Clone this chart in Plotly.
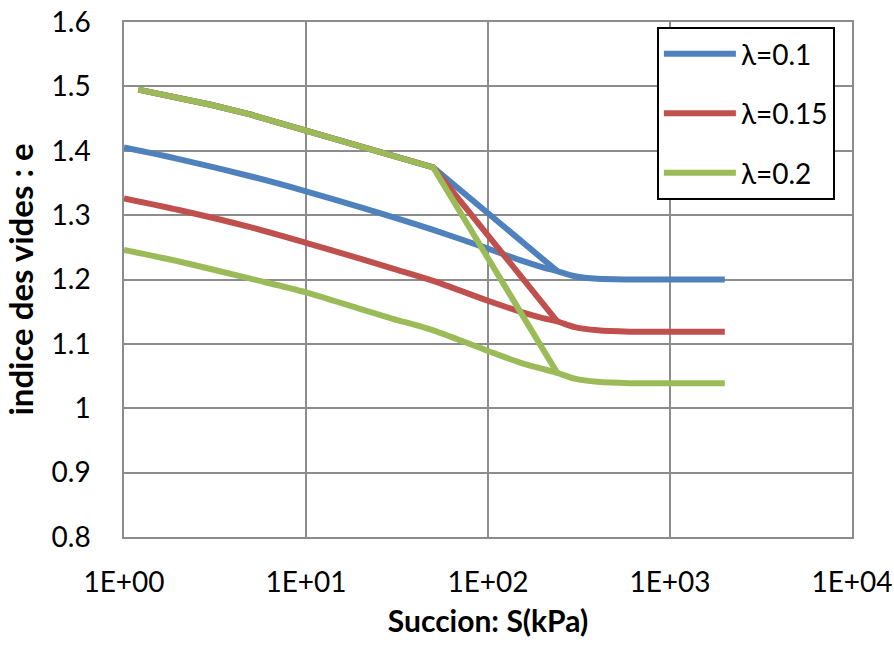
import plotly.graph_objects as go

# Upper (shared) path from S=1.2 to S=50, then straight drop to the knee
S_upper = [1.2, 2, 3, 5, 10, 20, 30, 40, 50, 240]
e_upper_01 = [1.495, 1.483, 1.4715, 1.456, 1.432, 1.408, 1.393, 1.382, 1.374, 1.213]
e_upper_015 = [1.495, 1.483, 1.4715, 1.456, 1.432, 1.408, 1.393, 1.382, 1.374, 1.135]
e_upper_02 = [1.495, 1.483, 1.4715, 1.456, 1.432, 1.408, 1.393, 1.382, 1.374, 1.055]

# Lower path from S=1 through the knee, then the plateau
S_lower = [1, 2, 5, 10, 20, 30, 50, 100, 150, 200, 240, 300, 400, 600, 1000, 2000]
e_lower_01 = [1.405, 1.387, 1.360, 1.337, 1.312, 1.297, 1.277, 1.248, 1.230, 1.219,
              1.213, 1.205, 1.201, 1.200, 1.200, 1.200]
e_lower_015 = [1.326, 1.308, 1.281, 1.257, 1.232, 1.217, 1.198, 1.167, 1.150, 1.140,
               1.135, 1.126, 1.121, 1.119, 1.119, 1.119]
e_lower_02 = [1.246, 1.228, 1.201, 1.180, 1.154, 1.139, 1.121, 1.089, 1.071, 1.061,
              1.055, 1.046, 1.041, 1.039, 1.039, 1.039]

names = ["λ=0.1", "λ=0.15", "λ=0.2"]
colors = ["#4F81BD", "#C0504D", "#9BBB59"]
uppers = [e_upper_01, e_upper_015, e_upper_02]
lowers = [e_lower_01, e_lower_015, e_lower_02]

x_tickvals = [1, 10, 100, 1000, 10000]
x_ticktext = ["1E+00", "1E+01", "1E+02", "1E+03", "1E+04"]

fig = go.Figure()
for nm, col, up, lw in zip(names, colors, uppers, lowers):
    fig.add_trace(go.Scatter(
        x=S_upper, y=up, mode="lines", name=nm, legendgroup=nm,
        line=dict(color=col, width=6),
    ))
    fig.add_trace(go.Scatter(
        x=S_lower, y=lw, mode="lines", name=nm, legendgroup=nm, showlegend=False,
        line=dict(color=col, width=6, shape="spline", smoothing=0.8),
    ))

font_family = "Lato, 'Open Sans', sans-serif"
grid = "#8c8c8c"
fig.update_layout(
    width=894, height=649,
    margin=dict(l=124, r=42, t=22, b=112, autoexpand=False),
    plot_bgcolor="white", paper_bgcolor="white",
    font=dict(family=font_family, size=28, color="black"),
    showlegend=True,
    legend=dict(
        x=0.732, y=0.99, xanchor="left", yanchor="top",
        bgcolor="white", bordercolor="black", borderwidth=2,
        font=dict(size=28, family=font_family),
        tracegroupgap=20,
        itemwidth=72,
    ),
    xaxis=dict(
        type="log", range=[0, 4], automargin=False,
        tickvals=x_tickvals, ticktext=x_ticktext,
        showgrid=True, gridcolor=grid, gridwidth=1.5,
        showline=True, linecolor=grid, linewidth=1.5, mirror=True,
        ticks="outside", ticklen=20, tickcolor="rgba(0,0,0,0)",
        tickfont=dict(size=28),
        title=dict(text="<b>Succion: S(kPa)</b>", font=dict(size=30), standoff=14),
        zeroline=False,
    ),
    yaxis=dict(
        range=[0.8, 1.6], dtick=0.1, tick0=0.8, automargin=False,
        showgrid=True, gridcolor=grid, gridwidth=1.5,
        showline=True, linecolor=grid, linewidth=1.5, mirror=True,
        ticks="outside", ticklen=26, tickcolor="rgba(0,0,0,0)",
        tickfont=dict(size=28),
        title=dict(text="<b>indice des vides : e</b>", font=dict(size=33), standoff=8),
        zeroline=False,
    ),
)

fig.write_html("out.html")
